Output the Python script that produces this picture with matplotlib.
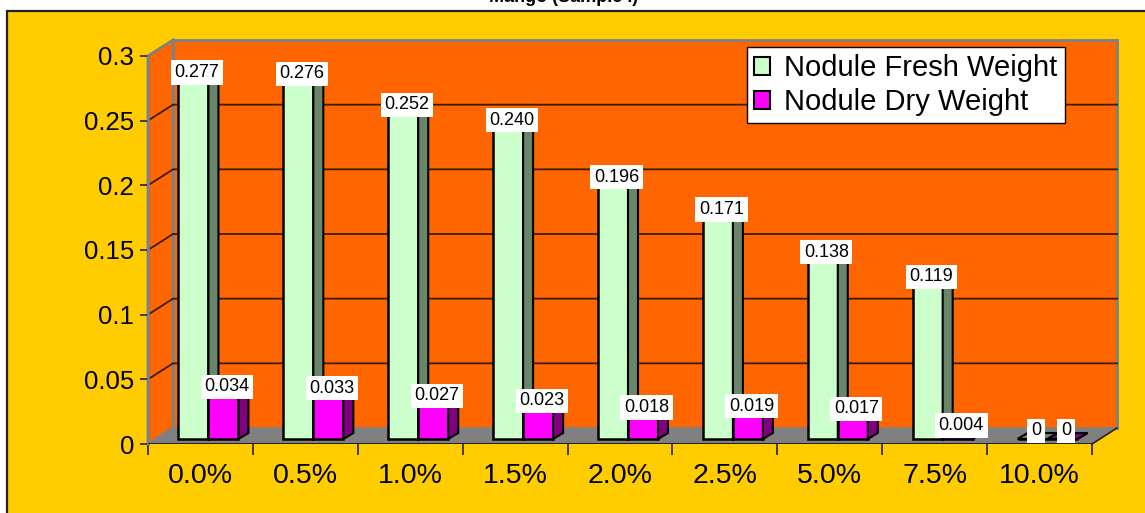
import numpy as np
import matplotlib.pyplot as plt
from matplotlib.patches import Polygon, Rectangle, Patch

plt.rcParams['font.family'] = ['Liberation Sans', 'DejaVu Sans']

# data
categories = ['0.0%', '0.5%', '1.0%', '1.5%', '2.0%', '2.5%', '5.0%', '7.5%', '10.0%']
fresh = [0.277, 0.276, 0.252, 0.240, 0.196, 0.171, 0.138, 0.119, 0]
dry = [0.034, 0.033, 0.027, 0.023, 0.018, 0.019, 0.017, 0.004, 0]
series_names = ['Nodule Fresh Weight', 'Nodule Dry Weight']
title = 'Mango (Sample I)'

yellow = '#FFCC00'
orange = '#FF6600'
floor_c = '#808080'
fresh_c, fresh_side = '#CCFFCC', '#6A866A'
dry_c, dry_side = '#FF00FF', '#800080'

W, H = 1145, 513
fig = plt.figure(figsize=(W / 100, H / 100), dpi=100)
fig.patch.set_facecolor('white')

# chart area (yellow) with dark border
fig.patches.append(Rectangle((7 / W, -0.01), 1.0, 1 - 10.5 / H + 0.01, transform=fig.transFigure,
                             facecolor=yellow, edgecolor='#222222', linewidth=1.6, zorder=-5))
fig.text(564 / W, 1 - 2 / H, title, ha='center', va='baseline', fontsize=13, fontweight='bold')

ax = fig.add_axes([148 / W, 1 - 444 / H, (1092 - 148) / W, 388 / H])
ax.set_zorder(1)
ax.set_xlim(-0.5, len(categories) - 0.5)
ax.set_ylim(0, 0.3)
ax.patch.set_visible(False)
for s in ax.spines.values():
    s.set_visible(False)


def px(dx, dy):
    # pixel offset -> data offset
    inv = ax.transData.inverted()
    p0 = ax.transData.transform((0, 0))
    return inv.transform(p0 + np.array([dx, dy]))


x0, x1 = ax.get_xlim()
y0, y1 = ax.get_ylim()
wdx, wdy = px(25, 16)

# back wall, side wall, floor
ax.add_patch(Polygon([(x0 + wdx, y0 + wdy), (x1 + wdx, y0 + wdy), (x1 + wdx, y1 + wdy), (x0 + wdx, y1 + wdy)],
                     facecolor=orange, edgecolor=floor_c, lw=2, clip_on=False, zorder=1))
ax.add_patch(Polygon([(x0, y0), (x0 + wdx, y0 + wdy), (x0 + wdx, y1 + wdy), (x0, y1)],
                     facecolor=orange, edgecolor=floor_c, lw=2, clip_on=False, zorder=1))
yticks = np.arange(0, 0.301, 0.05)
for t in yticks[1:-1]:
    ax.plot([x0, x0 + wdx, x1 + wdx], [t, t + wdy, t + wdy], color='#3a1a00', lw=1.3, clip_on=False, zorder=2)
ax.add_patch(Polygon([(x0, y0), (x1, y0), (x1 + wdx, y0 + wdy), (x0 + wdx, y0 + wdy)],
                     facecolor=floor_c, edgecolor='none', clip_on=False, zorder=2))
ax.plot([x1, x1 + wdx], [y0, y0 + wdy], color='#222222', lw=1.2, clip_on=False, zorder=2)
ax.plot([x0, x0], [y0, y1], color=floor_c, lw=2, clip_on=False, zorder=2)

# bars (faux 3D)
pos = np.arange(len(categories))
bw = px(30, 0)[0] - px(0, 0)[0]
bdx, bdy = px(8, 5)
sdx, sdy = px(10, 6)
ldx, ldy = px(3.6, 8.3)


def bars3d(xc, vals, face, side, z):
    ax.bar(xc + bdx, vals, width=bw, bottom=bdy, color=face, edgecolor='black', linewidth=1.8, zorder=z)
    for xi, v in zip(xc, vals):
        l, r = xi + bdx - bw / 2, xi + bdx + bw / 2
        top = v + bdy
        ax.add_patch(Polygon([(r, bdy), (r + sdx, bdy + sdy), (r + sdx, top + sdy), (r, top)],
                             facecolor=side, edgecolor='black', lw=1.5, zorder=z, clip_on=False))
        ax.add_patch(Polygon([(l, top), (r, top), (r + sdx, top + sdy), (l + sdx, top + sdy)],
                             facecolor=side if v == 0 else face, edgecolor='black', lw=1.5, zorder=z,
                             clip_on=False))


bars3d(pos - bw / 2, fresh, fresh_c, fresh_side, 3)
bars3d(pos + bw / 2, dry, dry_c, dry_side, 4)

for xc, vals, z in [(pos - bw / 2, fresh, 5), (pos + bw / 2, dry, 6)]:
    for xi, v in zip(xc, vals):
        ax.text(xi + bdx + ldx, v + bdy + ldy, f'{v:.3f}' if v else '0', ha='center', va='center',
                fontsize=13, zorder=z,
                bbox=dict(boxstyle='square,pad=0.2', facecolor='white', edgecolor='none'))

# axes
ax.axhline(0, color='#222222', lw=1.5, zorder=2)
ax.set_yticks(yticks)
ax.set_yticklabels(['0', '0.05', '0.1', '0.15', '0.2', '0.25', '0.3'], fontsize=18.5)
ax.tick_params(axis='y', length=6, width=1.2, color='#222222', pad=4)
ax.set_xticks(np.arange(len(categories) + 1) - 0.5)
ax.set_xticklabels([])
ax.tick_params(axis='x', which='major', length=8, width=1.2, color='#222222')
ax.set_xticks(pos, minor=True)
ax.set_xticklabels(categories, minor=True, fontsize=20.5)
ax.tick_params(axis='x', which='minor', length=0, pad=14)

handles = [Patch(facecolor=fresh_c, edgecolor='black', lw=1.5),
           Patch(facecolor=dry_c, edgecolor='black', lw=1.5)]
leg = ax.legend(handles, series_names, loc='upper right', bbox_to_anchor=(1065 / W, 1 - 47 / H),
                bbox_transform=fig.transFigure, borderaxespad=0, fontsize=21, fancybox=False,
                framealpha=1, edgecolor='black', handlelength=0.55, handleheight=0.55,
                handletextpad=0.5, labelspacing=0.2, borderpad=0.25)
leg.get_frame().set_linewidth(1.0)
leg.set_zorder(10)

fig.savefig('out.png', dpi=100, facecolor=fig.get_facecolor())
